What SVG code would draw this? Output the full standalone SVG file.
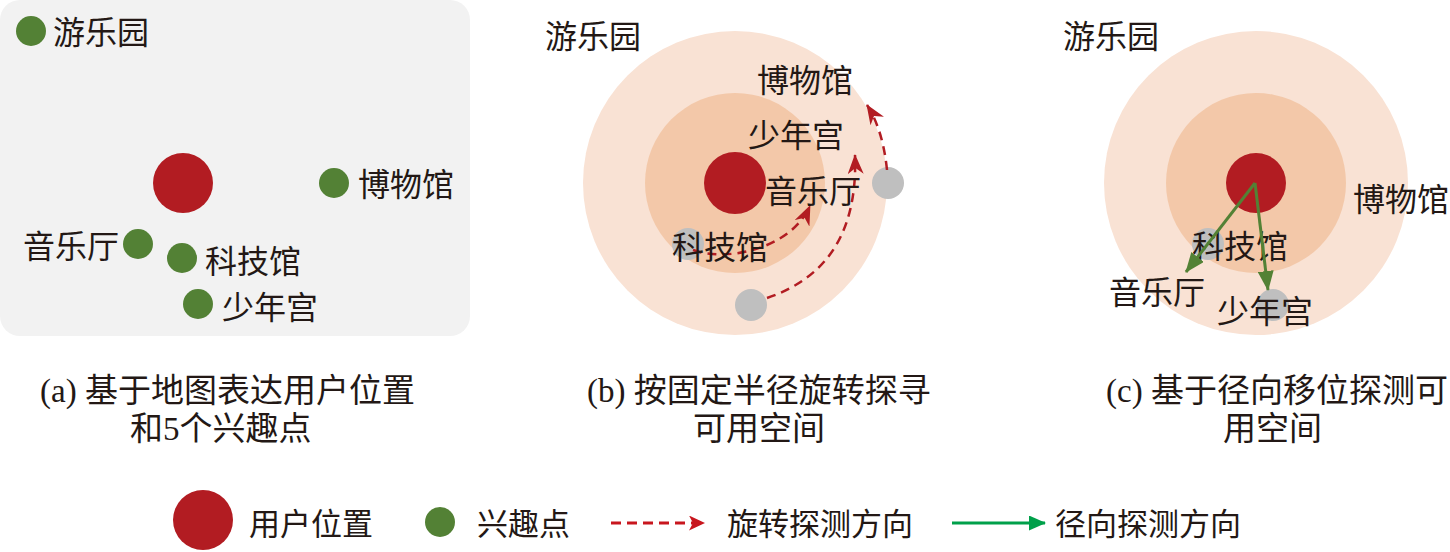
<svg xmlns="http://www.w3.org/2000/svg" width="1450" height="552" viewBox="0 0 1450 552">
<defs>
<style>
text{font-family:"Liberation Serif","Noto Sans CJK SC",serif;font-size:32px;fill:#231815;}
.leg{font-size:31px;}
.cap{font-size:33px;}
.red{fill:#b21c22;}
.poi{fill:#538135;}
.gray{fill:#bfbfbf;}
.outer{fill:#f9e2d4;}
.inner{fill:#f3c8a9;}
.rot{fill:none;stroke:#b21c22;stroke-width:2.5;stroke-dasharray:9 6;}
.rad{fill:none;stroke:#538135;stroke-width:3;}
</style>
<marker id="redHead" markerUnits="userSpaceOnUse" viewBox="0 0 20 16" refX="19" refY="8" markerWidth="20" markerHeight="16" orient="auto">
<path d="M0,0 L20,8 L0,16 L6,8 z" fill="#b21c22"/>
</marker>
<marker id="legRedHead" markerUnits="userSpaceOnUse" viewBox="0 0 16 15" refX="15" refY="7.5" markerWidth="16" markerHeight="15" orient="auto">
<path d="M0,0 L16,7.5 L0,15 L4,7.5 z" fill="#c8161e"/>
</marker>
<marker id="greenHead" markerUnits="userSpaceOnUse" viewBox="0 0 20 16" refX="19" refY="8" markerWidth="20" markerHeight="16" orient="auto">
<path d="M0,0 L20,8 L0,16 z" fill="#538135"/>
</marker>
<marker id="legGreenHead" markerUnits="userSpaceOnUse" viewBox="0 0 17 15" refX="16" refY="7.5" markerWidth="17" markerHeight="15" orient="auto">
<path d="M0,0 L17,7.5 L0,15 z" fill="#00a04a"/>
</marker>
</defs>

<!-- Panel (a) -->
<g id="panel-a">
<rect x="0" y="0" width="470" height="336" rx="20" ry="20" fill="#f2f2f2"/>
<g id="a-user"><circle class="red" cx="183" cy="183" r="30"/></g>
<g id="a-youleyuan"><circle class="poi" cx="31" cy="31" r="15"/><text x="53" y="44">游乐园</text></g>
<g id="a-bowuguan"><circle class="poi" cx="334" cy="183" r="15"/><text x="358" y="196">博物馆</text></g>
<g id="a-yinleting"><circle class="poi" cx="138" cy="244" r="15"/><text x="23" y="258">音乐厅</text></g>
<g id="a-kejiguan"><circle class="poi" cx="182" cy="258" r="15"/><text x="205" y="273">科技馆</text></g>
<g id="a-shaoniangong"><circle class="poi" cx="198" cy="304" r="15"/><text x="222" y="319">少年宫</text></g>
</g>

<!-- Panel (b) -->
<g id="panel-b">
<circle class="outer" cx="735" cy="183" r="152"/>
<circle class="inner" cx="735" cy="183" r="90"/>
<g id="b-user"><circle class="red" cx="735" cy="183" r="31"/></g>
<g id="b-kejiguan"><circle class="gray" cx="688" cy="244" r="16"/></g>
<g id="b-start2"><circle class="gray" cx="751" cy="305" r="16"/></g>
<g id="b-start3"><circle class="gray" cx="888" cy="183" r="16"/></g>
<g id="b-connectors">
<path class="rot" d="M693,250 C725,262 790,250 810,206" marker-end="url(#redHead)"/>
<path class="rot" d="M767,298 C820,280 858,240 855,155" marker-end="url(#redHead)"/>
<path class="rot" d="M887,170 Q883,130 867,105" marker-end="url(#redHead)"/>
</g>
<g id="b-labels">
<text x="545" y="48">游乐园</text>
<text x="757" y="92">博物馆</text>
<text x="748" y="147">少年宫</text>
<text x="765" y="203">音乐厅</text>
<text x="672" y="259">科技馆</text>
</g>
</g>

<!-- Panel (c) -->
<g id="panel-c">
<circle class="outer" cx="1256" cy="183" r="152"/>
<circle class="inner" cx="1256" cy="183" r="90"/>
<g id="c-user"><circle class="red" cx="1256" cy="183" r="30"/></g>
<g id="c-kejiguan"><circle class="gray" cx="1208" cy="244" r="16"/></g>
<g id="c-shaoniangong"><circle class="gray" cx="1273" cy="305" r="16"/></g>
<g id="c-labels">
<text x="1063" y="48">游乐园</text>
<text x="1353" y="211">博物馆</text>
<text x="1192" y="258">科技馆</text>
<text x="1109" y="304">音乐厅</text>
<text x="1217" y="323">少年宫</text>
</g>
<g id="c-connectors">
<path class="rad" d="M1255,183 L1186,272" marker-end="url(#greenHead)"/>
<path class="rad" d="M1255,183 L1268,290" marker-end="url(#greenHead)"/>
</g>
</g>

<!-- Captions -->
<g id="captions">
<text class="cap" x="40" y="402">(a) 基于地图表达用户位置</text>
<text class="cap" x="130" y="440">和5个兴趣点</text>
<text class="cap" x="587" y="402">(b) 按固定半径旋转探寻</text>
<text class="cap" x="693" y="440">可用空间</text>
<text class="cap" x="1106" y="402">(c) 基于径向移位探测可</text>
<text class="cap" x="1223" y="440">用空间</text>
</g>

<!-- Legend -->
<g id="legend">
<g id="legend-user"><circle class="red" cx="203" cy="520" r="30"/><text class="leg" x="249" y="535">用户位置</text></g>
<g id="legend-poi"><circle class="poi" cx="440" cy="522" r="15"/><text class="leg" x="477" y="535">兴趣点</text></g>
<g id="legend-rot"><path d="M611,523 L704,523" fill="none" stroke="#c8161e" stroke-width="3" stroke-dasharray="10 6" marker-end="url(#legRedHead)"/><text class="leg" x="727" y="535">旋转探测方向</text></g>
<g id="legend-rad"><path d="M952,523 L1045,523" fill="none" stroke="#00a04a" stroke-width="3" marker-end="url(#legGreenHead)"/><text class="leg" x="1055" y="535">径向探测方向</text></g>
</g>
</svg>
